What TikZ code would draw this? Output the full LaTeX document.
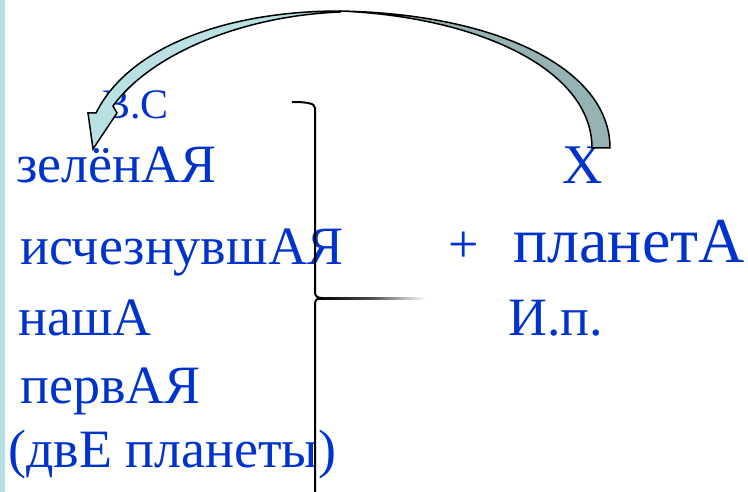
\documentclass[tikz,border=0pt]{standalone}
\usepackage{fontspec}
\setmainfont{Liberation Serif}
\definecolor{txtblue}{HTML}{0033CC}
\definecolor{stripc}{HTML}{B7DFE3}
\definecolor{arrowlight}{HTML}{B9E0E3}
\definecolor{arrowgray}{HTML}{95B3B3}
\begin{document}
\begin{tikzpicture}[x=1pt,y=-1pt,
  word/.style={anchor=base west,inner sep=0pt,text=txtblue,font=\fontsize{54}{60}\selectfont},
  arrowedge/.style={draw=black,line width=1.5pt,line join=miter},
  bracket/.style={draw=black,line width=2pt}]
\useasboundingbox (0,0) rectangle (748,492);
\fill[white] (0,0) rectangle (748,492);
\fill[stripc] (0,0) rectangle (5,492);
% texts
\node[word,font=\fontsize{42}{48}\selectfont] (vs) at (102,119) {В.С};
\node[word] (z1) at (16,183) {зелёнАЯ};
\node[word] (z2) at (20,265) {исчезнувшАЯ};
\node[word] (z3) at (18,335) {нашА};
\node[word] (z4) at (20,403) {первАЯ};
\node[word] (z5) at (8,467) {(двЕ планеты)};
\node[word,font=\fontsize{56}{60}\selectfont] (x) at (562,184) {Х};
\node[word] (plus) at (448,263) {+};
\node[word,font=\fontsize{64}{70}\selectfont] (plan) at (513,263) {планетА};
\node[word] (ip) at (508,335) {И.п.};
% bracket
\draw[bracket] (292,102) .. controls (306,102) and (315,103) .. (315,108) -- (315,292)
  .. controls (315,296) and (317,298) .. (322,298)
  .. controls (317,298) and (315,300) .. (315,304) -- (315,492);
\shade[left color=black,right color=white,middle color=black!70] (318,297) rectangle (425,299.5);
% curved arrow from X to the left column
\path[arrowedge,fill=arrowgray] (610,148) .. controls (610,70) and (500,14) .. (340,11)
  .. controls (480,17) and (592,70) .. (592,148) -- cycle;
\path[arrowedge,fill=arrowlight] (340,11) .. controls (230,11) and (130,45) .. (96,113)
  -- (88,113) -- (93,149) -- (117,113) -- (113,106)
  .. controls (150,55) and (240,16) .. (340,12) -- cycle;
\end{tikzpicture}
\end{document}
